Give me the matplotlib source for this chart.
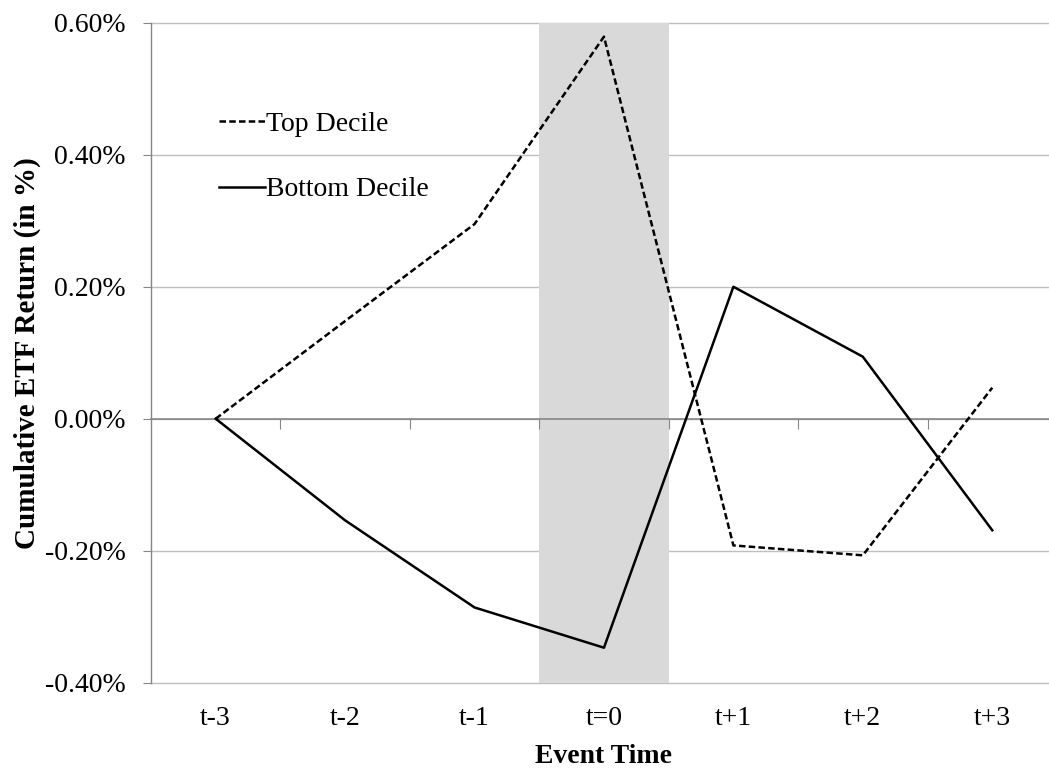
import matplotlib
matplotlib.use("Agg")
import matplotlib.pyplot as plt
from matplotlib.ticker import FuncFormatter, FixedLocator

plt.rcParams['font.family'] = ['Liberation Serif', 'DejaVu Serif']

# chart data (cumulative return, in %)
event_time = ["t-3", "t-2", "t-1", "t=0", "t+1", "t+2", "t+3"]
top_decile = [0.0, 0.148, 0.295, 0.579, -0.192, -0.207, 0.047]
bottom_decile = [0.0, -0.154, -0.286, -0.347, 0.200, 0.094, -0.169]
event_idx = 3  # the shaded category

x = list(range(len(event_time)))

fig = plt.figure(figsize=(10.49, 7.70), dpi=100)
ax = fig.add_axes([0.1439, 0.1134, 0.8637, 0.857])

grid_gray = "#bfbfbf"
axis_gray = "#868686"

# shaded event window
ax.axvspan(event_idx - 0.5, event_idx + 0.5, color="#d9d9d9", lw=0, zorder=1)

ax.plot(x, top_decile, color="black", lw=1.8, ls=(0, (2.6, 1.3)), label="Top Decile", zorder=3)
ax.plot(x, bottom_decile, color="black", lw=1.8, ls="-", label="Bottom Decile", zorder=3)

ax.set_ylim(-0.4, 0.6)
ax.set_xlim(-0.5, len(event_time) - 0.5)
ax.set_yticks([-0.4, -0.2, 0.0, 0.2, 0.4, 0.6])
ax.yaxis.set_major_formatter(FuncFormatter(lambda v, p: f"{v:.2f}%"))
ax.set_xticks(x)
ax.set_xticklabels(event_time)

ax.grid(axis="y", color=grid_gray, lw=1.0)
ax.set_axisbelow(True)
for gl in ax.get_ygridlines():
    gl.set_clip_on(False)

for s in ["top", "right", "bottom"]:
    ax.spines[s].set_visible(False)
ax.spines["left"].set_color(axis_gray)
ax.spines["left"].set_linewidth(1.0)

ax.tick_params(axis="y", direction="out", length=6, color=axis_gray, labelsize=20, pad=12)
ax.tick_params(axis="x", length=0, labelsize=20, pad=17)

# horizontal category axis drawn at zero
sec = ax.secondary_xaxis(0.4)
sec.spines["bottom"].set_color(axis_gray)
sec.spines["bottom"].set_linewidth(1.2)
sec.xaxis.set_major_locator(FixedLocator([i + 0.5 for i in x[:-1]]))
sec.tick_params(axis="x", direction="out", length=7, color=axis_gray, labelbottom=False)
sec.set_zorder(2)

ax.set_xlabel("Event Time", fontsize=20, fontweight="bold", labelpad=9)
ax.set_ylabel("Cumulative ETF Return (in %)", fontsize=21, fontweight="bold", labelpad=3)

ax.legend(loc="upper left", bbox_to_anchor=(0.075, 0.866), frameon=False, fontsize=20,
          borderpad=0, borderaxespad=0, handlelength=1.65, handletextpad=0.05,
          labelspacing=1.45)

fig.savefig("out.png", dpi=100)
